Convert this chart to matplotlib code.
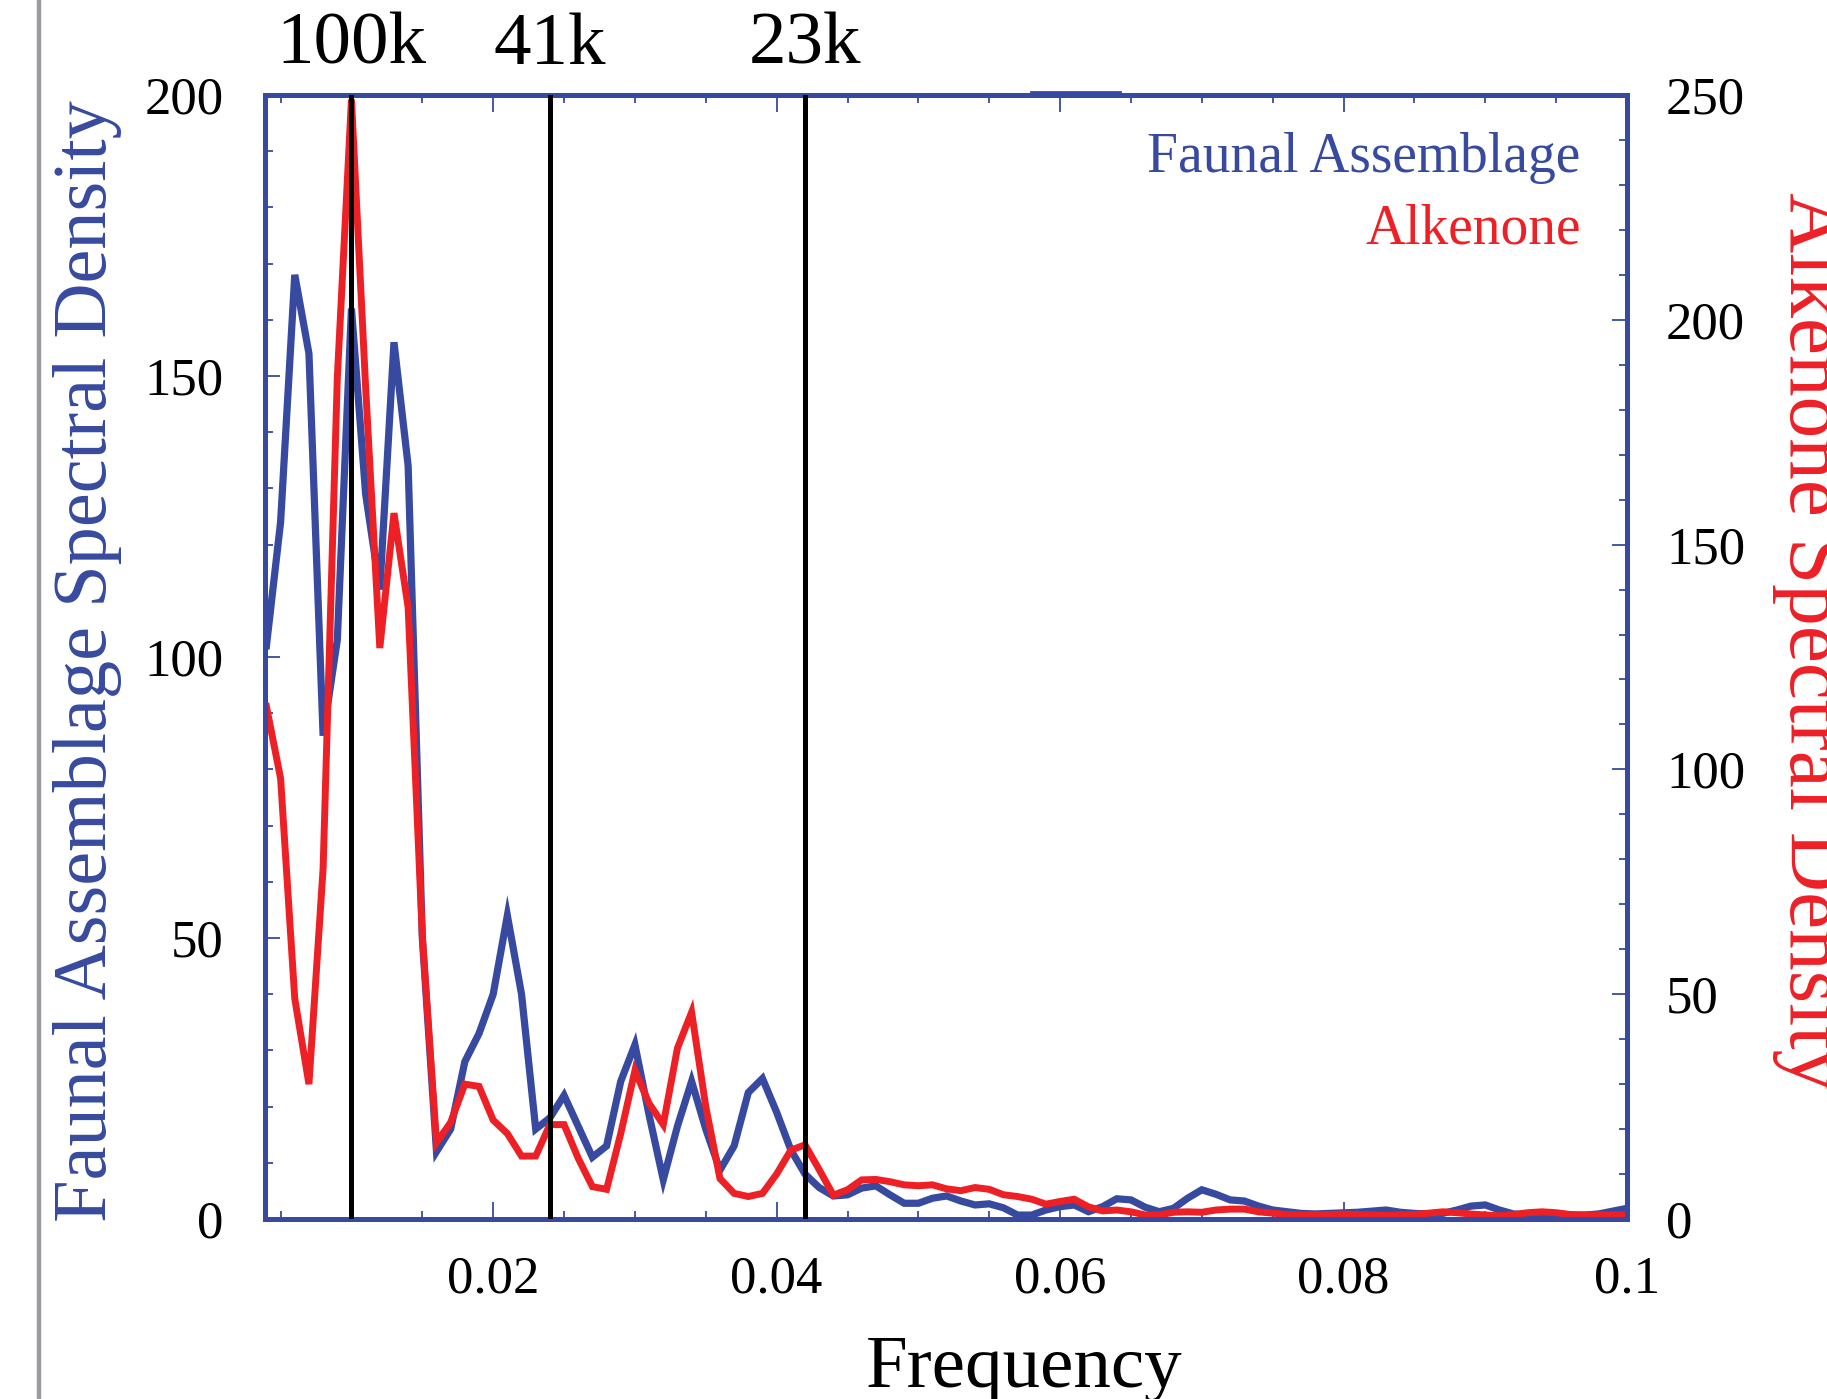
import matplotlib
matplotlib.use("Agg")
import matplotlib.pyplot as plt
from matplotlib.lines import Line2D
from matplotlib.ticker import MultipleLocator, FixedLocator, FixedFormatter
import matplotlib.transforms as mtransforms
import numpy as np

plt.rcParams['font.family'] = ['Liberation Serif', 'DejaVu Serif']

# frequency grid (cycles / kyr)
freq = np.round(np.arange(0.004, 0.1005, 0.001), 3)

# faunal assemblage spectral density (left axis)
faunal = [102, 124, 168, 154, 86, 103, 162, 129, 112, 156,
          134, 50, 12, 16, 28, 33, 40, 54, 40, 16,
          18, 22, 16.5, 11, 13, 24.5, 31, 18.5, 7, 16.5,
          24.5, 16, 8.7, 13, 22.5, 25, 19, 12.3, 8, 5.6,
          4.1, 4.3, 5.5, 5.9, 4.3, 2.8, 2.8, 3.7, 4.1, 3.2,
          2.5, 2.7, 2.0, 0.7, 0.7, 1.6, 2.2, 2.5, 1.3, 2.2,
          3.6, 3.4, 2.1, 1.3, 1.9, 3.7, 5.2, 4.4, 3.4, 3.2,
          2.3, 1.6, 1.3, 1.0, 0.9, 1.0, 1.1, 1.2, 1.4, 1.6,
          1.2, 1.0, 0.9, 1.0, 1.6, 2.3, 2.5, 1.6, 0.9, 0.7,
          0.7, 0.7, 0.7, 0.7, 0.9, 1.4, 1.9]

# alkenone spectral density (right axis)
alkenone = [114, 98, 49, 30, 78, 187, 249, 185, 127, 157,
            136, 63, 17, 21.5, 30, 29.5, 22, 19, 14, 14,
            21, 21, 13.5, 7.2, 6.6, 19, 33, 25.7, 21, 38,
            46, 25, 9, 5.7, 5, 5.7, 10, 15.3, 16.5, 11,
            5.3, 6.5, 8.7, 8.8, 8.3, 7.6, 7.4, 7.6, 6.7, 6.3,
            7.0, 6.6, 5.4, 5.0, 4.4, 3.3, 3.9, 4.4, 2.7, 1.8,
            2.0, 1.6, 0.9, 0.9, 1.5, 1.6, 1.5, 2.0, 2.2, 2.2,
            1.6, 1.3, 1.0, 0.9, 0.9, 1.0, 1.1, 1.0, 0.9, 0.8,
            0.9, 1.0, 1.3, 1.6, 1.4, 1.1, 0.9, 0.7, 1.0, 1.4,
            1.6, 1.4, 1.0, 0.9, 0.9, 0.9, 0.9]

# orbital periods marked
cycle_freq = [0.01, 0.024, 0.042]
cycle_labels = ["100k", "41k", "23k"]

xticks = [0.02, 0.04, 0.06, 0.08, 0.1]
xtick_labels = ["0.02", "0.04", "0.06", "0.08", "0.1"]
left_ticks = [0, 50, 100, 150, 200]
right_ticks = [0, 50, 100, 150, 200, 250]

blue = '#374a9f'
red = '#ed2026'

fig = plt.figure(figsize=(18.27, 13.99), dpi=100)
ax = fig.add_axes([0.14505, 0.12866, 0.74548, 0.80343])
ax2 = ax.twinx()

ax.plot(freq, faunal, color=blue, lw=5.2, solid_joinstyle='miter')
ax2.plot(freq, alkenone, color=red, lw=5.0, solid_joinstyle='miter')

for f in cycle_freq:
    ax2.axvline(f, color='black', lw=3.6, zorder=5)

ax.set_xlim(0.0039, 0.1)
ax.set_ylim(0, 200)
ax2.set_ylim(0, 250)

for a in (ax, ax2):
    for s in a.spines.values():
        s.set_color(blue)
        s.set_linewidth(3.6)

ax.xaxis.set_major_locator(FixedLocator(xticks))
ax.xaxis.set_major_formatter(FixedFormatter(xtick_labels))
ax.xaxis.set_minor_locator(MultipleLocator(0.005))
ax.yaxis.set_major_locator(FixedLocator(left_ticks))
ax.yaxis.set_minor_locator(MultipleLocator(10))
ax2.yaxis.set_major_locator(FixedLocator(right_ticks))
ax2.yaxis.set_minor_locator(MultipleLocator(10))

ax.tick_params(axis='x', which='both', direction='in', top=True, color=blue, width=1.3)
ax.tick_params(axis='x', which='major', length=12, labelsize=38, pad=26)
ax.tick_params(axis='x', which='minor', length=5.5)
ax.tick_params(axis='y', which='both', direction='in', right=False, color=blue, width=1.3)
ax.tick_params(axis='y', which='major', length=11, labelsize=38, pad=30)
ax.tick_params(axis='y', which='minor', length=5.5)
ax2.tick_params(axis='y', which='both', direction='in', color=blue, width=1.3)
ax2.tick_params(axis='y', which='major', length=11, labelsize=38, pad=28)
ax2.tick_params(axis='y', which='minor', length=5.5)

# period labels above the frame
trans = mtransforms.blended_transform_factory(ax.transData, ax.transAxes)
for f, lab in zip(cycle_freq, cycle_labels):
    ax.text(f, 1.0276, lab, transform=trans, ha='center', va='baseline',
            fontsize=54, color='black', clip_on=False)

# series names
ax.text(0.966, 0.9315, "Faunal Assemblage", transform=ax.transAxes,
        ha='right', va='baseline', fontsize=40, color=blue)
ax.text(0.966, 0.8683, "Alkenone", transform=ax.transAxes,
        ha='right', va='baseline', fontsize=40, color=red)

# axis titles
fig.text(0.029, 0.5275, "Faunal Assemblage Spectral Density", rotation=90,
         ha='left', va='center', fontsize=55, color=blue)
fig.text(0.9700, 0.5418, "Alkenone Spectral Density", rotation=-90,
         ha='left', va='center', fontsize=60, color=red)
fig.text(0.5608, 0.0086, "Frequency", ha='center', va='baseline',
         fontsize=54, color='black')

# grey rule at the left edge and small mark on top frame
fig.add_artist(Line2D([0.0211, 0.0211], [0, 1], transform=fig.transFigure,
                      color='#9b9ba0', lw=3.2))
fig.add_artist(Line2D([1031 / 1827, 1120 / 1827], [1 - 92 / 1399, 1 - 92 / 1399],
                      transform=fig.transFigure, color=blue, lw=2.0))

fig.savefig("out.png", dpi=100)
